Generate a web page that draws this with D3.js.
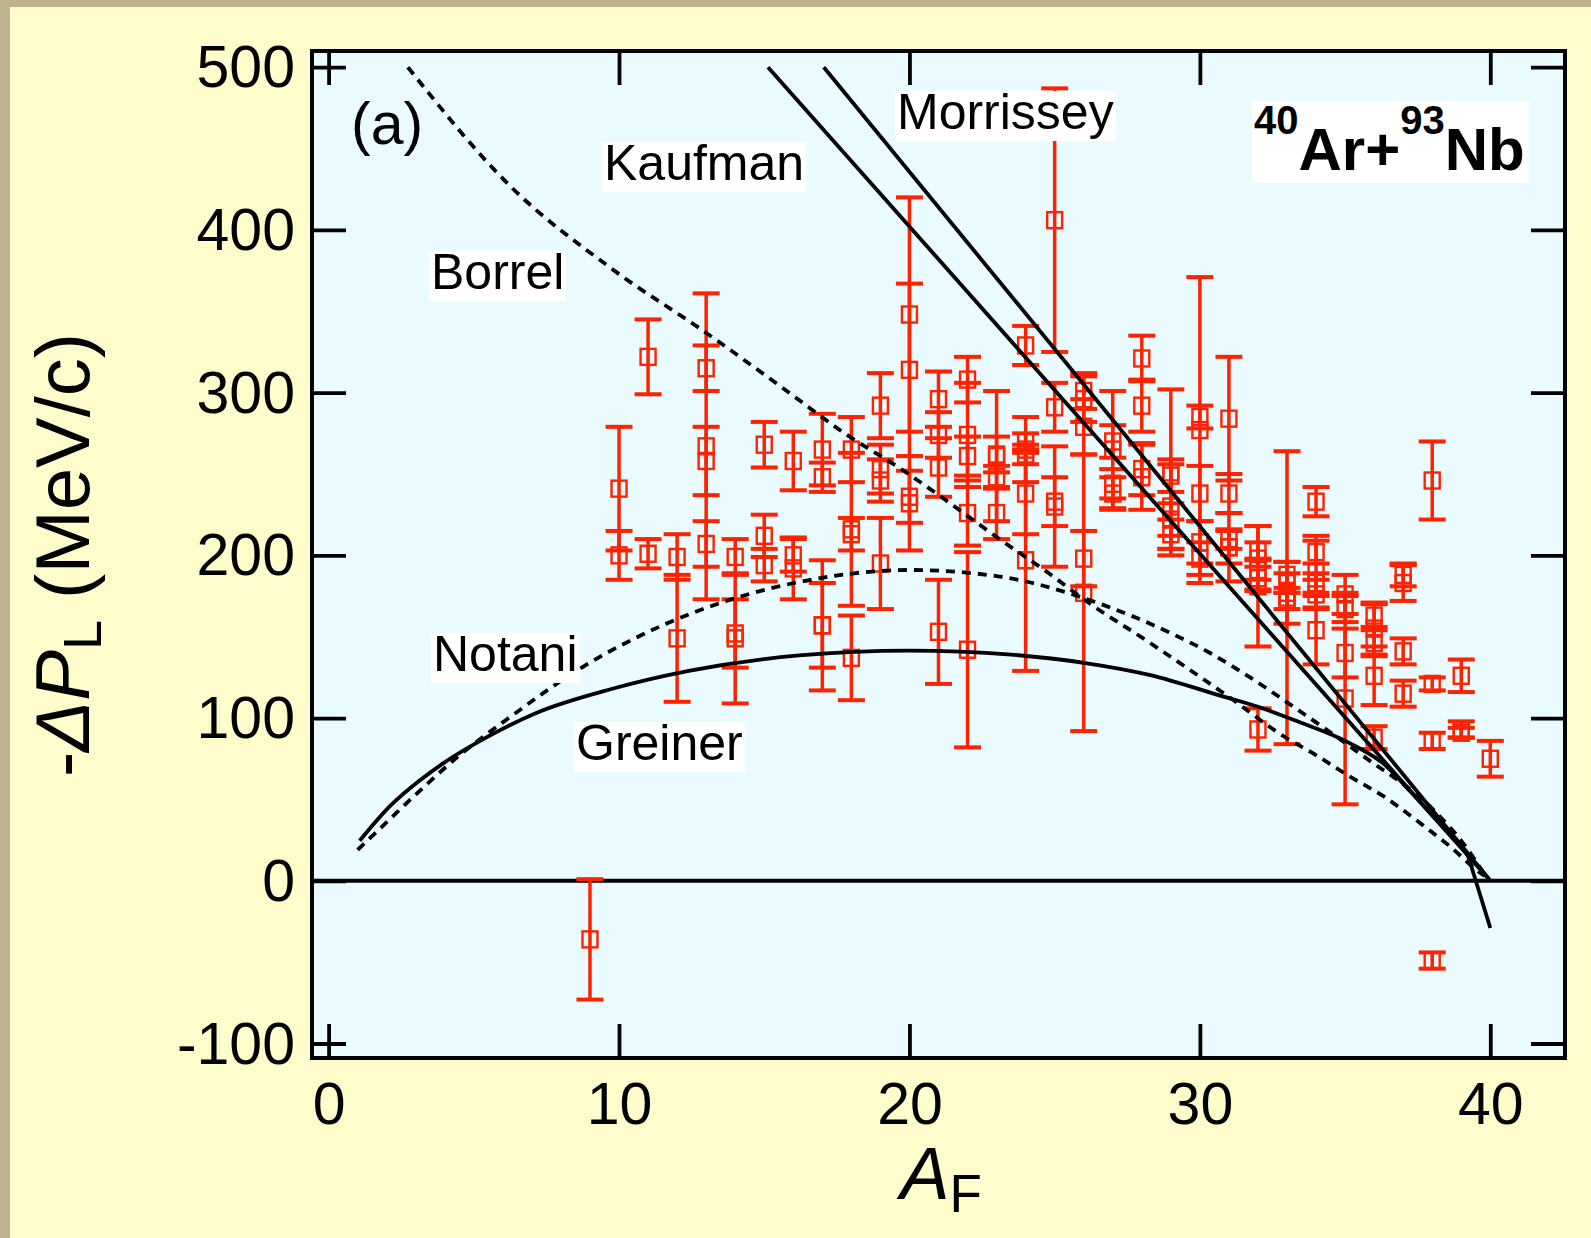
<!DOCTYPE html>
<html><head><meta charset="utf-8">
<script src="https://cdn.jsdelivr.net/npm/d3@7"></script>
<style>html,body{margin:0;padding:0;background:#bfb18d;} svg{display:block}</style>
</head><body>
<svg id="chart" width="1591" height="1238"></svg>
<script>
// ---------- data ----------
const xTicks = [0, 10, 20, 30, 40];
const yTicks = [-100, 0, 100, 200, 300, 400, 500];

// fragment mass A_F, momentum transfer -ΔP_L (MeV/c), error
const fragA = [
  9,
  10,10,
  11,11,
  12,12,
  13,13,13,13,
  14,14,14,
  15,15,15,
  16,16,16,
  17,17,17,17,
  18,18,18,18,
  19,19,19,19,
  20,20,20,20,
  21,21,21,21,
  22,22,22,22,22,
  23,23,23,23,
  24,24,24,24,24,24,
  25,25,25,25,
  26,26,26,26,26,
  27,27,27,27,
  28,28,28,28,
  29,29,29,29,29,
  30,30,30,30,30,
  31,31,31,31,31,
  32,32,32,32,32,32,
  33,33,33,33,33,
  34,34,34,34,34,34,
  35,35,35,35,
  36,36,36,36,36,
  37,37,37,37,
  38,38,38,38,
  39,39,39,
  40
];
const dPL = [
  -36,
  241,200,
  322,201,
  199,149,
  315,267,258,207,
  199,152,149,
  268,212,194,
  258,200,192,
  265,248,157,157,
  265,216,213,137,
  292,253,246,195,
  348,314,236,232,
  296,274,254,153,
  308,274,261,226,142,
  261,262,248,226,
  329,265,270,262,238,197,
  406,291,233,230,
  301,296,279,198,177,
  270,265,244,238,
  321,292,253,248,
  251,249,230,222,213,
  285,277,238,208,198,
  284,238,210,205,205,
  203,198,191,186,181,93,
  188,183,177,172,174,
  233,202,190,183,176,154,
  176,167,140,112,
  163,155,146,126,88,
  188,183,141,115,
  246,121,86,-49,
  126,93,91,
  75
];
const dPLErr = [
  37,
  38,15,
  23,9,
  14,39,
  14,94,21,14,
  11,21,40,
  14,13,10,
  18,10,19,
  22,9,40,26,
  20,47,10,26,
  20,15,13,28,
  72,53,16,29,
  17,14,18,32,
  14,32,12,20,60,
  40,11,7,16,
  12,20,5,6,25,68,
  81,15,15,37,
  11,14,17,17,85,
  10,36,9,10,
  14,16,16,20,
  51,10,26,10,9,
  7,94,17,13,10,
  38,12,6,10,21,
  5,20,6,7,37,13,
  8,6,19,5,90,
  9,7,22,6,9,21,
  12,8,15,65,
  7,16,8,18,7,
  7,11,8,8,
  24,4,5,5,
  10,5,3,
  11
];

// model curves
const kaufmanA = [15.13, 40];
const kaufmanP = [500, 0];
const morrisseyA = [17.05, 40];
const morrisseyP = [500, 0];
const borrelA = [2.73, 6.25, 9.76, 12.98, 15.55, 17.85, 19.8, 21.4, 23.1, 24.8, 26.0, 28.3, 31.0, 32.87, 34.02, 35.17, 36.32, 37.47, 38.62, 39.53, 39.8];
const borrelP = [500, 427, 376, 337, 304, 274, 252, 232, 210, 189, 173, 146, 113, 89, 77, 64, 52, 37, 21, 6.6, 3];
const notaniA = [1, 2, 3, 4.5, 6.2, 8.8, 11.5, 13.7, 16.6, 20, 23.1, 26.6, 28.9, 30.35, 31.73, 33.22, 35.52, 38.16, 39.07, 39.76];
const notaniP = [19, 36, 53, 77, 100, 132, 157, 172, 185, 191, 187, 170, 153, 140, 125, 107, 78, 41.5, 23, 5];
const greinerA = [1.07, 2.12, 3.09, 3.97, 5.37, 7.13, 9.77, 12.4, 16.2, 20, 23.5, 26, 28.3, 30.7, 32, 33.36, 35.17, 36.32, 37.24, 38.16, 38.95, 39.25, 39.42, 40];
const greinerP = [24.6, 46, 61, 72.5, 87.5, 103, 118, 129, 138.5, 141.5, 139, 134, 126.4, 113.8, 107, 98, 84.5, 72, 55, 37, 21.5, 14.5, 4.6, -29];

const curveLabels = ["Kaufman", "Morrissey", "Borrel", "Notani", "Greiner"];

// ---------- layout ----------
const svg = d3.select("#chart");
const W = 1591, H = 1238;
const plot = {left: 312, right: 1565, top: 51, bottom: 1058};
const RED = "#ff2200";
const FONT = "'Liberation Sans', Arial, Helvetica, sans-serif";

const x = d3.scaleLinear().domain([0, 40]).range([328.6, 1490.3]);
const y = d3.scaleLinear().domain([0, 500]).range([880.8, 67.2]);

// backgrounds
svg.append("rect").attr("x", 0).attr("y", 0).attr("width", W).attr("height", H).attr("fill", "#bfb18d");
svg.append("rect").attr("x", 10).attr("y", 7).attr("width", W - 10).attr("height", H - 7).attr("fill", "#fffccb");
svg.append("rect").attr("x", plot.left).attr("y", plot.top)
  .attr("width", plot.right - plot.left).attr("height", plot.bottom - plot.top)
  .attr("fill", "#e9fbff");

svg.append("defs").append("clipPath").attr("id", "clip")
  .append("rect").attr("x", plot.left).attr("y", plot.top)
  .attr("width", plot.right - plot.left).attr("height", plot.bottom - plot.top);

const inner = svg.append("g").attr("clip-path", "url(#clip)");

// zero line
inner.append("line")
  .attr("x1", plot.left).attr("x2", plot.right)
  .attr("y1", y(0)).attr("y2", y(0))
  .attr("stroke", "#000").attr("stroke-width", 4);

// data points with error bars
const pts = d3.range(fragA.length).map(i => ({a: fragA[i], p: dPL[i], e: dPLErr[i]}));
const gp = inner.append("g").attr("class", "points");
const capW = 13.5;
pts.forEach(d => {
  const cx = x(d.a), yt = y(d.p + d.e), yb = y(d.p - d.e), cy = y(d.p);
  gp.append("line").attr("x1", cx).attr("x2", cx).attr("y1", yt).attr("y2", yb)
    .attr("stroke", RED).attr("stroke-width", 3.5);
  [yt, yb].forEach(yy => gp.append("line")
    .attr("x1", cx - capW).attr("x2", cx + capW).attr("y1", yy).attr("y2", yy)
    .attr("stroke", RED).attr("stroke-width", 4));
  gp.append("rect").attr("x", cx - 7.5).attr("y", cy - 8).attr("width", 15).attr("height", 16)
    .attr("fill", "none").attr("stroke", RED).attr("stroke-width", 2.4);
});

// model curves
const line = d3.line().x(d => x(d[0])).y(d => y(d[1])).curve(d3.curveMonotoneX);
const zip = (a, b) => a.map((v, i) => [v, b[i]]);
const curves = [
  {pts: zip(kaufmanA, kaufmanP), dash: null},
  {pts: zip(morrisseyA, morrisseyP), dash: null},
  {pts: zip(greinerA, greinerP), dash: null},
  {pts: zip(borrelA, borrelP), dash: "9,7"},
  {pts: zip(notaniA, notaniP), dash: "9,7"}
];
curves.forEach(c => {
  inner.append("path").attr("d", line(c.pts))
    .attr("fill", "none").attr("stroke", "#000").attr("stroke-width", 3.8)
    .attr("stroke-dasharray", c.dash);
});

// axes (inward ticks on all four sides)
const tickLen = 34;
const fmt = d => String(d);
function styleAxis(g) {
  g.select(".domain").remove();
  g.selectAll(".tick line").attr("stroke", "#000").attr("stroke-width", 3.8);
  g.selectAll(".tick text").attr("font-family", FONT).attr("font-size", 59).attr("fill", "#000");
}
svg.append("g").attr("transform", `translate(${plot.left},0)`)
  .call(d3.axisLeft(y).tickValues(yTicks).tickSize(-tickLen).tickPadding(17).tickFormat(fmt))
  .call(styleAxis)
  .selectAll(".tick text").attr("dy", "0.33em");
svg.append("g").attr("transform", `translate(${plot.right},0)`)
  .call(d3.axisRight(y).tickValues(yTicks).tickSize(-tickLen).tickFormat(""))
  .call(styleAxis);
svg.append("g").attr("transform", `translate(0,${plot.bottom})`)
  .call(d3.axisBottom(x).tickValues(xTicks).tickSize(-tickLen).tickPadding(24).tickFormat(fmt))
  .call(styleAxis);
svg.append("g").attr("transform", `translate(0,${plot.top})`)
  .call(d3.axisTop(x).tickValues(xTicks).tickSize(-tickLen).tickFormat(""))
  .call(styleAxis);

// frame
svg.append("rect").attr("x", plot.left).attr("y", plot.top)
  .attr("width", plot.right - plot.left).attr("height", plot.bottom - plot.top)
  .attr("fill", "none").attr("stroke", "#000").attr("stroke-width", 4);

// curve labels with white boxes
const labelPos = [[604, 180], [897, 129], [431, 289], [433, 671], [576, 760]];
curveLabels.forEach((t, i) => {
  const g = svg.append("g");
  const txt = g.append("text").attr("x", labelPos[i][0]).attr("y", labelPos[i][1])
    .attr("font-family", FONT).attr("font-size", 50).attr("fill", "#000").text(t);
  const len = txt.node().getComputedTextLength();
  g.insert("rect", "text").attr("x", labelPos[i][0] - 2).attr("y", labelPos[i][1] - 38)
    .attr("width", len + 4).attr("height", 50).attr("fill", "#fff");
});

// panel tag
svg.append("text").attr("x", 351).attr("y", 144)
  .attr("font-family", FONT).attr("font-size", 59).attr("fill", "#000").text("(a)");

// reaction label
const rg = svg.append("g");
const rt = rg.append("text").attr("x", 1254).attr("y", 170)
  .attr("font-family", FONT).attr("font-weight", "bold").attr("fill", "#000");
rt.append("tspan").attr("font-size", 40).attr("dy", -36).text("40");
rt.append("tspan").attr("font-size", 60).attr("dy", 36).text("Ar+");
rt.append("tspan").attr("font-size", 40).attr("dy", -36).text("93");
rt.append("tspan").attr("font-size", 60).attr("dy", 36).text("Nb");
const rlen = rt.node().getComputedTextLength();
rg.insert("rect", "text").attr("x", 1252).attr("y", 101).attr("width", rlen + 6).attr("height", 82).attr("fill", "#fff");

// axis titles
const xt = svg.append("text").attr("x", 941).attr("y", 1199).attr("text-anchor", "middle")
  .attr("font-family", FONT).attr("fill", "#000");
xt.append("tspan").attr("font-size", 74).attr("font-style", "italic").text("A");
xt.append("tspan").attr("font-size", 53).attr("dy", 13).text("F");

const yt = svg.append("text").attr("transform", "translate(89,555) rotate(-90)")
  .attr("text-anchor", "middle").attr("font-family", FONT).attr("fill", "#000").attr("font-size", 76);
yt.append("tspan").text("-");
yt.append("tspan").attr("font-style", "italic").text("\u0394P");
yt.append("tspan").attr("font-size", 54).attr("dy", 12).text("L");
yt.append("tspan").attr("dy", -12).text(" (MeV/c)");
</script>
</body></html>
